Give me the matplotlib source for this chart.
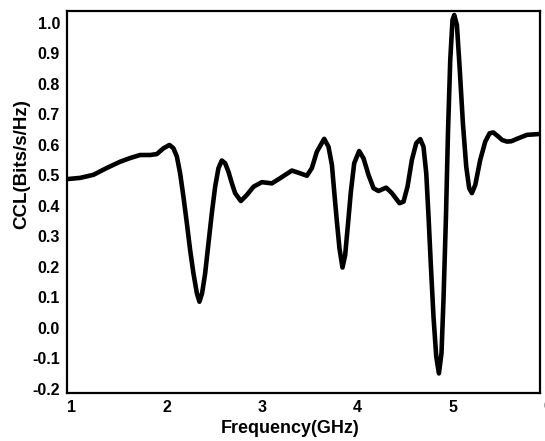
import matplotlib.pyplot as plt

plt.rcParams['font.family'] = ['Liberation Sans', 'DejaVu Sans']
plt.rcParams['font.weight'] = 'bold'

# values
freq_ghz = [0.951, 1.087, 1.227, 1.371, 1.508, 1.613, 1.718, 1.823, 1.893, 1.963,
            2.026, 2.068, 2.104, 2.138, 2.173, 2.209, 2.243, 2.278, 2.314, 2.341,
            2.369, 2.401, 2.436, 2.471, 2.506, 2.541, 2.576, 2.611, 2.646, 2.682,
            2.716, 2.776, 2.839, 2.909, 2.997, 3.102, 3.189, 3.312, 3.399, 3.470,
            3.522, 3.575, 3.652, 3.697, 3.733, 3.757, 3.785, 3.812, 3.844, 3.872,
            3.901, 3.932, 3.967, 4.019, 4.065, 4.117, 4.170, 4.222, 4.303, 4.363,
            4.443, 4.485, 4.527, 4.573, 4.619, 4.661, 4.695, 4.724, 4.748, 4.773,
            4.800, 4.829, 4.857, 4.884, 4.905, 4.931, 4.952, 4.976, 5.000, 5.018,
            5.046, 5.074, 5.109, 5.144, 5.175, 5.204, 5.239, 5.291, 5.344, 5.389,
            5.428, 5.483, 5.522, 5.572, 5.617, 5.677, 5.782, 5.922]
ccl = [0.488, 0.492, 0.502, 0.525, 0.545, 0.557, 0.567, 0.567, 0.570, 0.589,
       0.600, 0.589, 0.562, 0.507, 0.430, 0.343, 0.256, 0.179, 0.114, 0.086,
       0.114, 0.179, 0.278, 0.376, 0.463, 0.524, 0.549, 0.540, 0.512, 0.474,
       0.442, 0.416, 0.436, 0.463, 0.478, 0.474, 0.491, 0.516, 0.507, 0.499,
       0.524, 0.578, 0.620, 0.594, 0.534, 0.447, 0.349, 0.261, 0.198, 0.239,
       0.338, 0.447, 0.540, 0.580, 0.556, 0.502, 0.458, 0.449, 0.460, 0.442,
       0.409, 0.414, 0.463, 0.551, 0.606, 0.619, 0.594, 0.507, 0.365, 0.201,
       0.037, -0.094, -0.149, -0.083, 0.092, 0.365, 0.638, 0.879, 1.010, 1.026,
       0.993, 0.857, 0.671, 0.529, 0.458, 0.442, 0.469, 0.551, 0.611, 0.638,
       0.641, 0.627, 0.616, 0.611, 0.612, 0.620, 0.633, 0.636]

x_ticks = [1, 2, 3, 4, 5]
y_ticks = [-0.2, -0.1, 0.0, 0.1, 0.2, 0.3, 0.4, 0.5, 0.6, 0.7, 0.8, 0.9, 1.0]

fig = plt.figure(figsize=(5.45, 4.41), dpi=100)
ax = fig.add_axes([0.123, 0.109, 0.868, 0.866])

ax.plot(freq_ghz, ccl, c='black', lw=3.3, solid_joinstyle='round', solid_capstyle='round')

ax.set_xlim(0.95, 5.92)
ax.set_ylim(-0.213, 1.039)
ax.set_xticks(x_ticks)
ax.set_yticks(y_ticks)
ax.set_yticklabels(['{:.1f}'.format(v) for v in y_ticks])
ax.tick_params(length=0, labelsize=11.5, pad=5)
for s in ax.spines.values():
    s.set_linewidth(1.6)

# the "6" label sits right on the cropped edge
ax.text(6, -0.232, '6', transform=ax.transData, ha='center', va='top',
        fontsize=11.5, fontweight='bold', clip_on=False)

ax.set_xlabel('Frequency(GHz)', fontsize=13, fontweight='bold')
ax.set_ylabel('CCL(Bits/s/Hz)', fontsize=13.5, fontweight='bold')
ax.xaxis.set_label_coords(0.471, -0.07)
ax.yaxis.set_label_coords(-0.078, 0.60)

fig.savefig('out.png', dpi=100)
